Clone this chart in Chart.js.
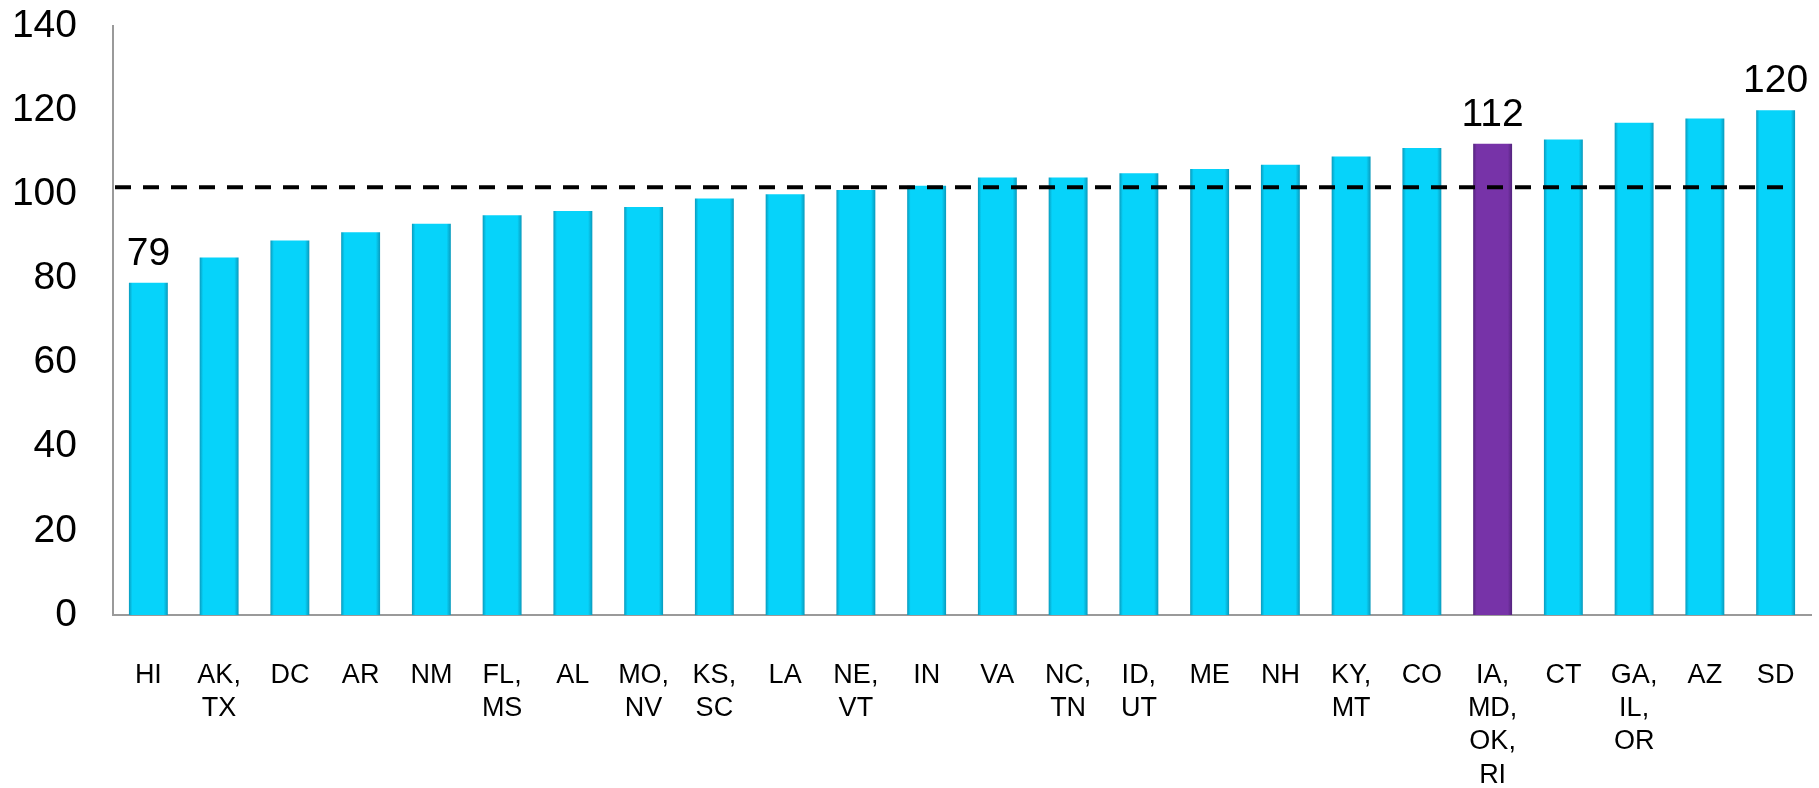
<!DOCTYPE html>
<html>
<head>
<meta charset="utf-8">
<script src="https://cdn.jsdelivr.net/npm/chart.js@4"></script>
<style>
  html, body { margin: 0; padding: 0; background: #fff; }
  #wrap { width: 1819px; height: 788px; }
</style>
</head>
<body>
<div id="wrap"><canvas id="myChart"></canvas></div>
<script>
const labels = [
    'HI', ['AK,', 'TX'], 'DC', 'AR', 'NM', ['FL,', 'MS'], 'AL', ['MO,', 'NV'], ['KS,', 'SC'], 'LA',
    ['NE,', 'VT'], 'IN', 'VA', ['NC,', 'TN'], ['ID,', 'UT'], 'ME', 'NH', ['KY,', 'MT'], 'CO',
    ['IA,', 'MD,', 'OK,', 'RI'], 'CT', ['GA,', 'IL,', 'OR'], 'AZ', 'SD'
];
const values = [79, 85, 89, 91, 93, 95, 96, 97, 99, 100, 101, 102, 104, 104, 105, 106, 107, 109, 111, 112, 113, 117, 118, 120];
const highlight = 19;          // IA, MD, OK, RI
const shownValues = [0, 19, 23];
const average = 101.7;
const yTicks = [0, 20, 40, 60, 80, 100, 120, 140];

const ctx = document.getElementById('myChart');

// darker edges on each bar, a bit like the bevelled look
function barFill(context) {
    const chart = context.chart;
    const purple = context.dataIndex == highlight;
    const mid = purple ? '#7733A8' : '#06D3FA';
    const edge = purple ? '#4E2176' : '#0A92B4';
    const xs = chart.scales && chart.scales.x;
    if (!xs) return mid;
    const cx = xs.getPixelForValue(context.dataIndex);
    if (!isFinite(cx) || !xs.width) return mid;
    const half = 20;
    const g = chart.ctx.createLinearGradient(cx - half, 0, cx + half, 0);
    g.addColorStop(0, edge);
    g.addColorStop(0.1, mid);
    g.addColorStop(0.88, mid);
    g.addColorStop(1, edge);
    return g;
}

const extras = {
    id: 'extras',
    afterDatasetsDraw(chart) {
        const c = chart.ctx;
        const x = chart.scales.x, y = chart.scales.y;
        const area = chart.chartArea;
        // dashed average line
        const yy = y.getPixelForValue(average);
        c.save();
        c.strokeStyle = '#000';
        c.lineWidth = 4;
        c.setLineDash([16, 12]);
        c.beginPath();
        c.moveTo(area.left + 2, yy);
        c.lineTo(x.getPixelForValue(values.length - 1) + 8, yy);
        c.stroke();
        c.restore();
        // value labels
        const meta = chart.getDatasetMeta(0);
        c.save();
        c.fillStyle = '#000';
        c.font = '39px "Liberation Sans", Arial, sans-serif';
        c.textAlign = 'center';
        c.textBaseline = 'alphabetic';
        for (const i of shownValues) {
            const bar = meta.data[i];
            c.fillText(String(values[i]), bar.x, bar.y - 18);
        }
        c.restore();
    }
};

const config = {
    type: 'bar',
    data: {
        labels,
        datasets: [{
            data: values,
            backgroundColor: barFill,
            borderWidth: 0,
            categoryPercentage: 1,
            barPercentage: 0.55
        }]
    },
    options: {
        responsive: true,
        maintainAspectRatio: false,
        animation: false,
        layout: { padding: { top: 26, right: 8, left: 0, bottom: 0 } },
        scales: {
            x: {
                grid: { display: false, drawTicks: false },
                border: { display: true, color: '#9a9a9a', width: 2 },
                ticks: {
                    autoSkip: false,
                    maxRotation: 0,
                    padding: 44,
                    color: '#000',
                    font: { family: '"Liberation Sans", Arial, sans-serif', size: 27, lineHeight: 1.23 }
                },
                afterFit(scale) { scale.height = 173; scale.paddingLeft = 0; scale.paddingRight = 0; }
            },
            y: {
                min: 0,
                max: 140,
                afterBuildTicks(scale) { scale.ticks = yTicks.map(v => ({ value: v })); },
                grid: { display: false, drawTicks: false },
                border: { display: true, color: '#9a9a9a', width: 2 },
                ticks: {
                    padding: 36,
                    color: '#000',
                    font: { family: '"Liberation Sans", Arial, sans-serif', size: 39 }
                },
                afterFit(scale) { scale.width = 113; scale.paddingTop = 0; scale.paddingBottom = 0; }
            }
        },
        plugins: {
            legend: { display: false },
            tooltip: { enabled: false }
        }
    },
    plugins: [extras]
};
const myChart = new Chart(ctx, config);
</script>
</body>
</html>
